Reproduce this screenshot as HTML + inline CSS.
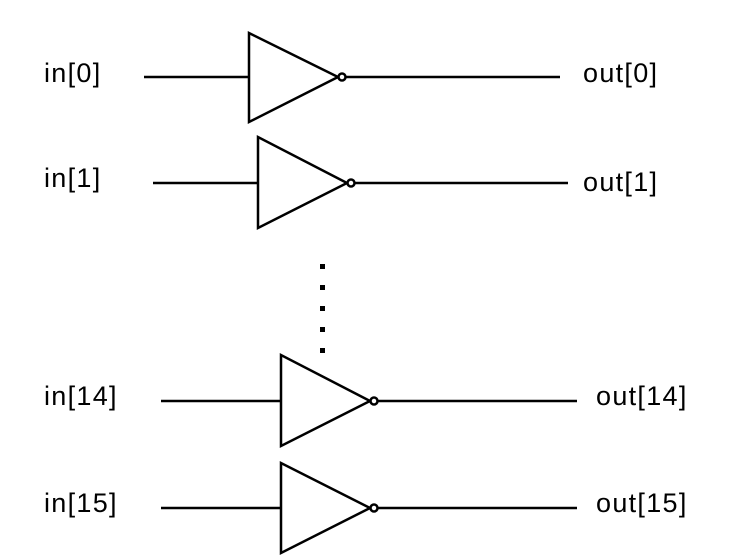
<!DOCTYPE html>
<html><head><meta charset="utf-8"><style>
html,body{margin:0;padding:0;background:#fff;}
svg{display:block;}
text{font-family:"Liberation Sans",Arial,sans-serif;font-size:27px;letter-spacing:1.3px;fill:#000;}
</style></head><body>
<svg width="745" height="556" viewBox="0 0 745 556">
<g stroke="#000" stroke-width="2.5" fill="none">
 <g>
  <line x1="144" y1="77" x2="249" y2="77"/>
  <polygon points="249,33 249,122 338,77" fill="#fff"/>
  <circle cx="342" cy="77" r="3.5" fill="#fff"/>
  <line x1="346" y1="77" x2="560" y2="77"/>
 </g>
 <g>
  <line x1="153" y1="183" x2="258" y2="183"/>
  <polygon points="258,137 258,228 347,183" fill="#fff"/>
  <circle cx="351" cy="183" r="3.5" fill="#fff"/>
  <line x1="355" y1="183" x2="568" y2="183"/>
 </g>
 <g>
  <line x1="161" y1="401" x2="281" y2="401"/>
  <polygon points="281,355 281,446 370,401" fill="#fff"/>
  <circle cx="374" cy="401" r="3.5" fill="#fff"/>
  <line x1="378" y1="401" x2="577" y2="401"/>
 </g>
 <g>
  <line x1="161" y1="508" x2="281" y2="508"/>
  <polygon points="281,463 281,553 370,508" fill="#fff"/>
  <circle cx="374" cy="508" r="3.5" fill="#fff"/>
  <line x1="378" y1="508" x2="577" y2="508"/>
 </g>
</g>
<g fill="#000">
 <rect x="320" y="264" width="5" height="5"/>
 <rect x="320" y="285" width="5" height="5"/>
 <rect x="320" y="306" width="5" height="5"/>
 <rect x="320" y="327" width="5" height="5"/>
 <rect x="320" y="348" width="5" height="5"/>
</g>
<text x="44" y="82">in[0]</text>
<text x="44" y="187">in[1]</text>
<text x="44" y="405">in[14]</text>
<text x="44" y="512">in[15]</text>
<text x="583" y="82">out[0]</text>
<text x="583" y="191">out[1]</text>
<text x="596" y="405">out[14]</text>
<text x="596" y="512">out[15]</text>
</svg>
</body></html>
